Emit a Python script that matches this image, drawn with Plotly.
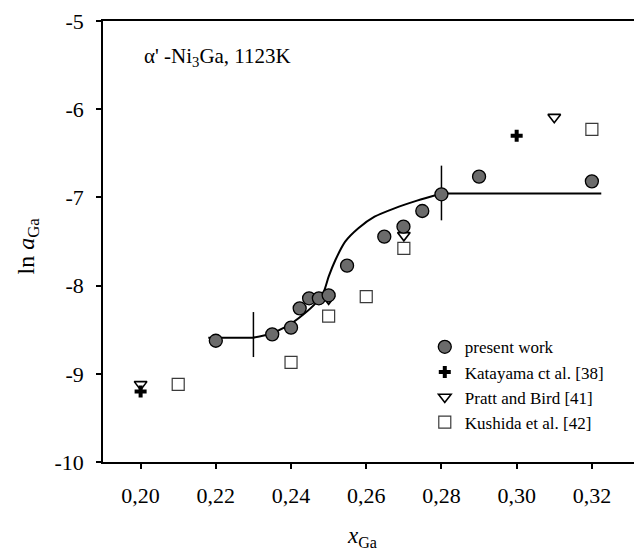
import plotly.graph_objects as go

# present work
pw_x = [0.22, 0.235, 0.240, 0.2423, 0.2448, 0.2474, 0.25, 0.2549, 0.2648, 0.2699, 0.2749, 0.28, 0.29, 0.32]
pw_y = [-8.625, -8.553, -8.477, -8.258, -8.144, -8.144, -8.11, -7.774, -7.445, -7.332, -7.154, -6.965, -6.765, -6.818]
# Katayama et al. [38]
ka_x = [0.20, 0.25, 0.30]
ka_y = [-9.20, -8.12, -6.30]
# Pratt and Bird [41]
pb_x = [0.20, 0.25, 0.27, 0.31]
pb_y = [-9.12, -8.15, -7.43, -6.09]
# Kushida et al. [42]
ku_x = [0.21, 0.24, 0.25, 0.26, 0.27, 0.32]
ku_y = [-9.12, -8.87, -8.345, -8.125, -7.577, -6.228]
# model curve: flat part, S-shaped part, flat part
cv_x = [0.218, 0.230, 0.2343, 0.2387, 0.2431, 0.2465, 0.2487, 0.2500, 0.2518, 0.2544, 0.2579,
        0.2622, 0.2675, 0.2735, 0.2800, 0.3225]
cv_y = [-8.59, -8.59, -8.548, -8.466, -8.333, -8.201, -8.069, -7.899, -7.710, -7.502, -7.350,
        -7.219, -7.124, -7.037, -6.955, -6.955]
# phase boundary markers
b1_x = [0.23, 0.23]
b1_y = [-8.30, -8.81]
b2_x = [0.28, 0.28]
b2_y = [-6.64, -7.26]

y_ticks = [-10, -9, -8, -7, -6, -5]
y_ticktext = ["-10", "-9", "-8", "-7", "-6", "-5"]
x_ticks = [0.20, 0.22, 0.24, 0.26, 0.28, 0.30, 0.32]

FONT = "Liberation Serif"

fig = go.Figure()
line_style = dict(color="black", width=2)
fig.add_trace(go.Scatter(x=cv_x[:2], y=cv_y[:2], mode="lines", line=line_style, showlegend=False, hoverinfo="skip"))
fig.add_trace(go.Scatter(x=cv_x[1:-1], y=cv_y[1:-1], mode="lines",
                         line=dict(color="black", width=2, shape="spline", smoothing=0.7),
                         showlegend=False, hoverinfo="skip"))
fig.add_trace(go.Scatter(x=cv_x[-2:], y=cv_y[-2:], mode="lines", line=line_style, showlegend=False, hoverinfo="skip"))
for bx, by in [(b1_x, b1_y), (b2_x, b2_y)]:
    fig.add_trace(go.Scatter(x=bx, y=by, mode="lines", line=dict(color="black", width=1.5),
                             showlegend=False, hoverinfo="skip"))
fig.add_trace(go.Scatter(x=ku_x, y=ku_y, mode="markers", name="Kushida et al. [42]",
                         marker=dict(symbol="square-open", size=12, color="#3a3a3a", line=dict(width=1.2))))
fig.add_trace(go.Scatter(x=pb_x, y=pb_y, mode="markers", name="Pratt and Bird [41]",
                         marker=dict(symbol="triangle-down-open", size=11, color="black", line=dict(width=1.6))))
fig.add_trace(go.Scatter(x=ka_x, y=ka_y, mode="markers", name="Katayama ct al. [38]",
                         marker=dict(symbol="cross", size=10, color="black", line=dict(width=0))))
fig.add_trace(go.Scatter(x=pw_x, y=pw_y, mode="markers", name="present work",
                         marker=dict(symbol="circle", size=13, color="#6b6b6b", line=dict(color="black", width=1.3))))

fig.update_layout(
    width=634, height=549,
    margin=dict(l=103, r=0, t=21, b=87, autoexpand=False),
    paper_bgcolor="white", plot_bgcolor="white",
    separators=",.",
    font=dict(family=FONT, size=22, color="black"),
    legend=dict(x=0.606, y=0.301, xanchor="left", yanchor="top", traceorder="reversed",
                font=dict(family=FONT, size=17), bgcolor="rgba(0,0,0,0)", itemwidth=30),
    annotations=[
        dict(text="α' -Ni<sub>3</sub>Ga, 1123K", x=0.0734, y=0.918, xref="paper", yref="paper",
             xanchor="left", yanchor="middle", showarrow=False, font=dict(family=FONT, size=21)),
        dict(text="<i>x</i><sub>Ga</sub>", x=0.488, y=-0.17, xref="paper", yref="paper",
             xanchor="center", yanchor="middle", showarrow=False, font=dict(family=FONT, size=23)),
        dict(text="ln <i>a</i><sub>Ga</sub>", x=-0.142, y=0.49, xref="paper", yref="paper",
             xanchor="center", yanchor="middle", textangle=-90, showarrow=False,
             font=dict(family=FONT, size=24)),
    ],
)
fig.update_xaxes(range=[0.19, 0.3312], tickvals=x_ticks, tickformat=".2f", automargin=False,
                 showline=True, linecolor="black", linewidth=1.5, mirror=True, ticks="outside", ticklen=5,
                 tickcolor="black", tickwidth=1.5, showgrid=False, zeroline=False, ticklabelstandoff=8)
fig.update_yaxes(range=[-10, -5], tickvals=y_ticks, ticktext=y_ticktext, automargin=False,
                 showline=True, linecolor="black", linewidth=1.5,
                 ticks="outside", ticklen=5, tickcolor="black", tickwidth=1.5, showgrid=False, zeroline=False,
                 ticklabelstandoff=8)
fig.write_html("out.html", config={"displayModeBar": False},
               post_script="document.body.style.margin='0px';document.body.style.overflow='hidden';")
